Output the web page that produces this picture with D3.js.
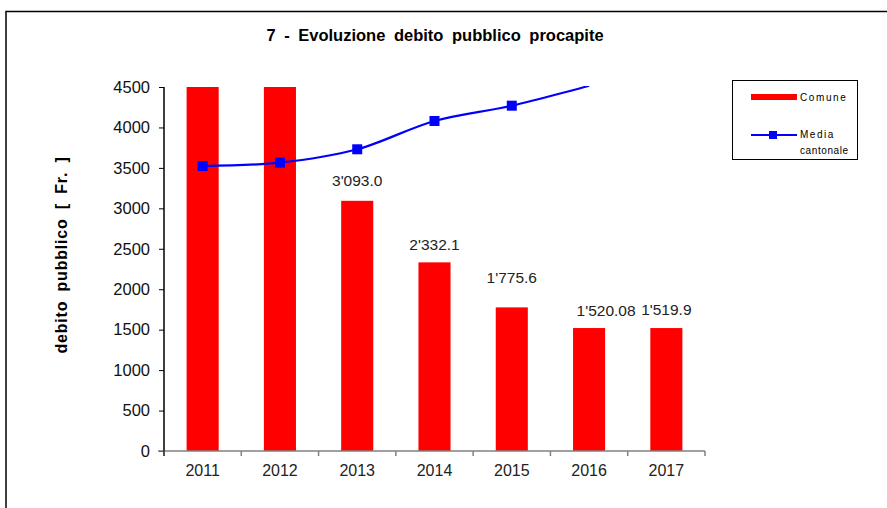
<!DOCTYPE html>
<html><head><meta charset="utf-8">
<script src="https://cdn.jsdelivr.net/npm/d3@7/dist/d3.min.js"></script>
<style>body{margin:0;background:#fff;} svg{display:block;font-family:"Liberation Sans",Arial,sans-serif;}</style>
</head><body>
<svg id="c" width="887" height="508"></svg>
<script>
const years = ["2011","2012","2013","2014","2015","2016","2017"];
const comune = [4500, 4500, 3093.0, 2332.1, 1775.6, 1520.08, 1519.9];
const comuneLabels = [null, null, "3'093.0", "2'332.1", "1'775.6", "1'520.08", "1'519.9"];
const media = [3523, 3565, 3730, 4080, 4269, 4515];
const yTicks = [0,500,1000,1500,2000,2500,3000,3500,4000,4500];
const titleText = "7 - Evoluzione debito pubblico procapite";
const yTitle = "debito pubblico [ Fr. ]";

const svg = d3.select("#c");
const L = 164, R = 705, T = 87, B = 451;

// frame
svg.append("path").attr("d","M6,520 V11.5 H890").attr("fill","none").attr("stroke","#000").attr("stroke-width",1.5);

svg.append("text").attr("x",435).attr("y",41).attr("text-anchor","middle")
  .attr("font-size",16.5).attr("font-weight","bold").attr("word-spacing",4).text(titleText);

const x = d3.scaleBand().domain(years).range([L,R]).paddingInner(0.585).paddingOuter(0.2925);
const xo = d3.scaleBand().domain(years).range([L,R]);
const y = d3.scaleLinear().domain([0,4500]).range([B,T]);

svg.append("defs").append("clipPath").attr("id","clip").append("rect")
  .attr("x",L).attr("y",T-1).attr("width",R-L).attr("height",B-T+1);

// bars
svg.append("g").selectAll("rect").data(comune).join("rect")
  .attr("x",(d,i)=>x(years[i])).attr("width",x.bandwidth())
  .attr("y",d=>y(Math.min(d,4500))).attr("height",d=>B-y(Math.min(d,4500)))
  .attr("fill","#ff0000");

// labels
const labelDx = [0,0,0,0,0,17,0];
const labelDy = [0,0,-15,-12,-24,-12,-13];
svg.append("g").selectAll("text").data(comune).join("text")
  .attr("x",(d,i)=>xo(years[i])+xo.bandwidth()/2+labelDx[i])
  .attr("y",(d,i)=>y(d)+labelDy[i])
  .attr("text-anchor","middle").attr("font-size",15.5).attr("fill","#222")
  .text((d,i)=>comuneLabels[i]||"");

// axes
const yAxis = svg.append("g").attr("transform",`translate(${L},0)`)
  .call(d3.axisLeft(y).tickValues(yTicks).tickSize(5).tickPadding(9).tickFormat(d3.format("d")));
yAxis.select(".domain").attr("stroke","#000").attr("d",`M0,${T}H0V${B}`);
yAxis.selectAll(".tick line").attr("stroke","#000");
yAxis.selectAll("text").attr("font-size",16.5).attr("font-family","Liberation Sans, Arial").attr("fill","#111");

const xAxis = svg.append("g").attr("transform",`translate(0,${B})`);
xAxis.append("line").attr("x1",L-6).attr("x2",R).attr("stroke","#808080").attr("stroke-width",1.5);
xAxis.selectAll("line.t").data(years.concat(["end"])).join("line").attr("class","t")
  .attr("x1",(d,i)=>L+i*xo.bandwidth()).attr("x2",(d,i)=>L+i*xo.bandwidth())
  .attr("y1",0).attr("y2",5).attr("stroke","#808080").attr("stroke-width",1.5);
xAxis.selectAll("text").data(years).join("text")
  .attr("x",d=>xo(d)+xo.bandwidth()/2).attr("y",25)
  .attr("text-anchor","middle").attr("font-size",16).attr("fill","#222").text(d=>d);
svg.append("line").attr("x1",L).attr("x2",L).attr("y1",T).attr("y2",B+5).attr("stroke","#000");

// line
const cx = (d,i)=>xo(years[i])+xo.bandwidth()/2;
const line = d3.line().x(cx).y(d=>y(d)).curve(d3.curveCatmullRom.alpha(0.5));
svg.append("path").datum(media).attr("d",line).attr("clip-path","url(#clip)")
  .attr("fill","none").attr("stroke","#0000ff").attr("stroke-width",2.2);
svg.append("g").selectAll("rect").data(media.map((d,i)=>({d,i})).filter(o=>o.d<=4500)).join("rect")
  .attr("x",o=>cx(o.d,o.i)-5).attr("y",o=>y(o.d)-5).attr("width",10).attr("height",10)
  .attr("fill","#0000ff");

// y title
svg.append("text").attr("transform","translate(67,255) rotate(-90)").attr("text-anchor","middle")
  .attr("font-size",16).attr("font-weight","bold").attr("letter-spacing",0.8).attr("word-spacing",4).text(yTitle);

// legend
const lg = svg.append("g");
lg.append("rect").attr("x",732.5).attr("y",80.5).attr("width",125).attr("height",79)
  .attr("fill","#fff").attr("stroke","#000").attr("stroke-width",1);
lg.append("rect").attr("x",751).attr("y",94).attr("width",46).attr("height",6).attr("fill","#ff0000");
lg.append("text").attr("x",800).attr("y",101).attr("font-size",10).attr("letter-spacing",1.6).text("Comune");
lg.append("line").attr("x1",751).attr("x2",797).attr("y1",135).attr("y2",135).attr("stroke","#0000ff").attr("stroke-width",2);
lg.append("rect").attr("x",769).attr("y",131).attr("width",8).attr("height",8).attr("fill","#0000ff");
lg.append("text").attr("x",800).attr("y",138).attr("font-size",10).attr("letter-spacing",1.5).text("Media");
lg.append("text").attr("x",800).attr("y",154).attr("font-size",10).attr("letter-spacing",0.6).text("cantonale");
</script>
</body></html>
